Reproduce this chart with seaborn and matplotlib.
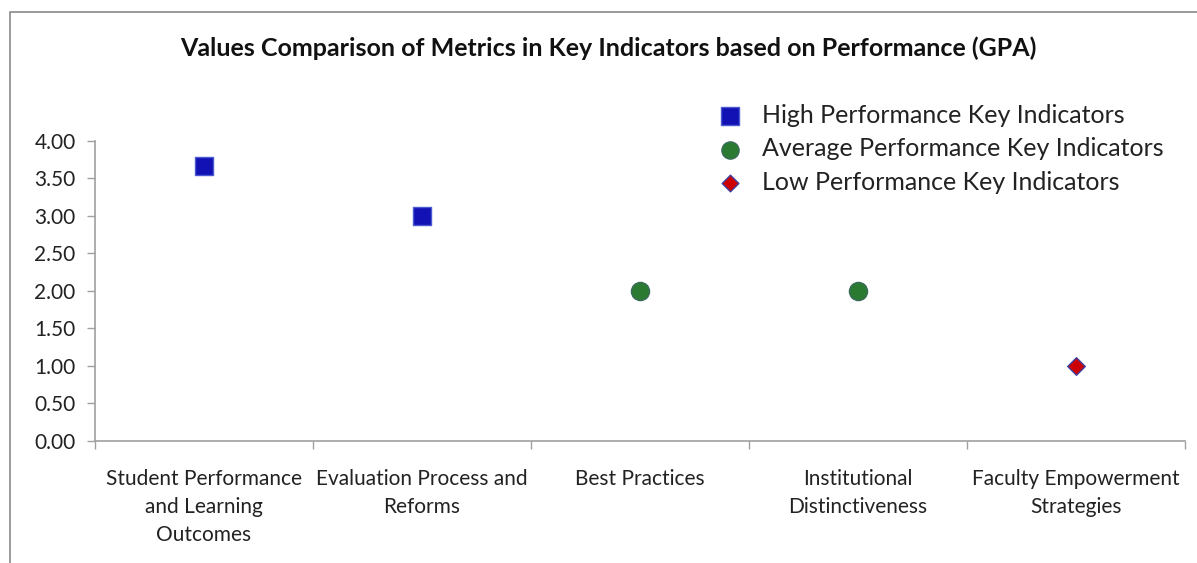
import matplotlib.pyplot as plt
import matplotlib.patches as mpatches
import numpy as np
import pandas as pd
import seaborn as sns
from matplotlib.ticker import FormatStrFormatter, FixedLocator

# data
categories = ["Student Performance\nand Learning\nOutcomes",
              "Evaluation Process and\nReforms",
              "Best Practices",
              "Institutional\nDistinctiveness",
              "Faculty Empowerment\nStrategies"]
gpa = [3.67, 3.00, 2.00, 2.00, 1.00]
groups = ["High Performance Key Indicators",
          "High Performance Key Indicators",
          "Average Performance Key Indicators",
          "Average Performance Key Indicators",
          "Low Performance Key Indicators"]
yticks = [0, 0.5, 1.0, 1.5, 2.0, 2.5, 3.0, 3.5, 4.0]

df = pd.DataFrame({"pos": np.arange(len(categories)), "gpa": gpa, "group": groups})

sns.set_style("white")
plt.rcParams["font.family"] = ["Lato", "DejaVu Sans"]

palette = {"High Performance Key Indicators": "#1212b4",
           "Average Performance Key Indicators": "#2b7a32",
           "Low Performance Key Indicators": "#cc0000"}
markers = {"High Performance Key Indicators": "s",
           "Average Performance Key Indicators": "o",
           "Low Performance Key Indicators": "D"}
sizes = {"High Performance Key Indicators": 170,
         "Average Performance Key Indicators": 170,
         "Low Performance Key Indicators": 80}
edges = {"High Performance Key Indicators": "#4a5ad0",
         "Average Performance Key Indicators": "#3a6a5a",
         "Low Performance Key Indicators": "#4040a0"}

fig = plt.figure(figsize=(11.97, 5.63), dpi=100)
ax = fig.add_axes([0.0794, 0.2167, 0.9106, 0.5329])

for g in palette:
    sub = df[df["group"] == g]
    sns.scatterplot(data=sub, x="pos", y="gpa", ax=ax, color=palette[g],
                    marker=markers[g], s=sizes[g], edgecolor=edges[g],
                    linewidth=1, label=g, zorder=3)

ax.set_xlim(-0.5, len(categories) - 0.5)
ax.set_ylim(0, 4)
ax.set_yticks(yticks)
ax.yaxis.set_major_formatter(FormatStrFormatter("%.2f"))
ax.set_xticks(df["pos"])
ax.set_xticklabels(categories, fontsize=15, color="#222222", linespacing=1.5)
ax.xaxis.set_minor_locator(FixedLocator(np.arange(-0.5, len(categories), 1.0)))
ax.tick_params(axis="x", which="major", length=0, pad=20)
ax.tick_params(axis="x", which="minor", length=6, width=1, color="#a0a0a0",
               direction="out", bottom=True)
ax.tick_params(axis="y", length=6, width=1, color="#a0a0a0", direction="out",
               left=True, labelsize=15, labelcolor="#222222", pad=8)
ax.set_xlabel("")
ax.set_ylabel("")

for side in ["top", "right"]:
    ax.spines[side].set_visible(False)
for side in ["left", "bottom"]:
    ax.spines[side].set_color("#a0a0a0")
    ax.spines[side].set_linewidth(1.2)

leg = ax.legend(loc="upper left", bbox_to_anchor=(0.55, 1.157), frameon=False,
                fontsize=18, handletextpad=0.3, labelspacing=0.42,
                borderaxespad=0, markerscale=0.95)
for t in leg.get_texts():
    t.set_color("#222222")

fig.text(0.508, 0.915, "Values Comparison of Metrics in Key Indicators based on Performance (GPA)",
         ha="center", va="center", fontsize=18, fontweight="bold", color="#111111")

# outer chart frame
fig.patches.append(mpatches.Rectangle((10 / 1197, -0.05), 1.2, 1.05 - 12 / 563,
                                      transform=fig.transFigure, fill=False,
                                      edgecolor="#8a8a8a", linewidth=1.2))

plt.savefig("out.png", dpi=100)
